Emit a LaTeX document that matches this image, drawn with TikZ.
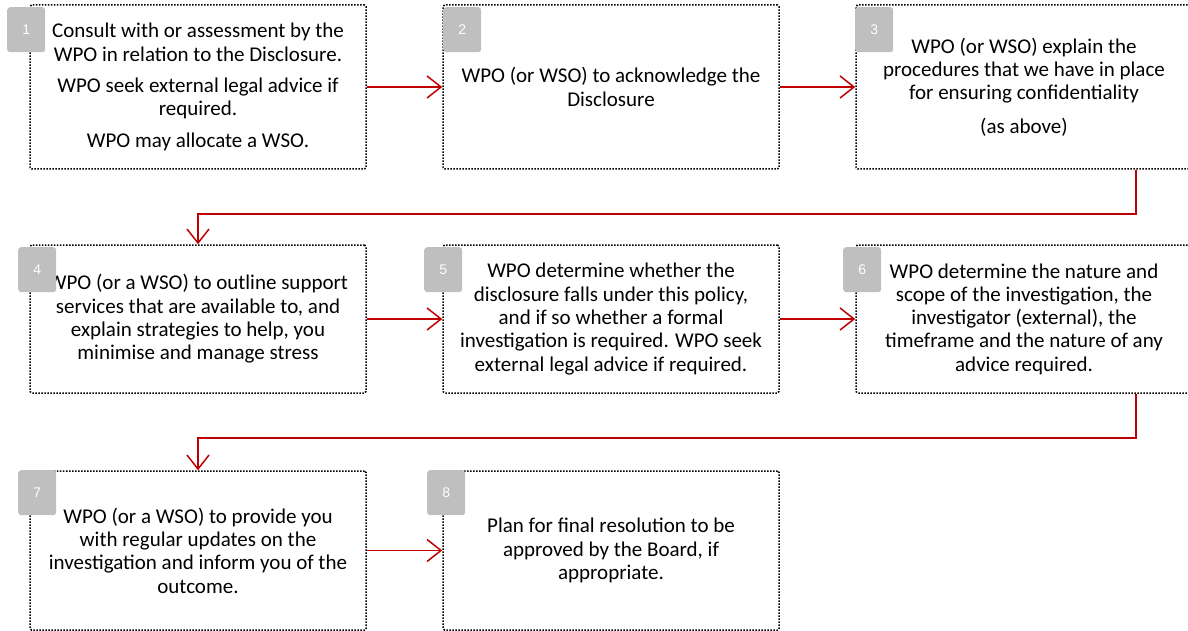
\documentclass[tikz,border=0pt]{standalone}
\usepackage{fontspec}
\setmainfont{Carlito}
\newfontfamily\badgefont{Liberation Sans}
\usetikzlibrary{arrows.meta}
\definecolor{linered}{HTML}{C00000}
\definecolor{badgegray}{HTML}{BFBFBF}
\tikzset{
  stepbox/.style={draw=black, line width=1.5pt, dash pattern=on 1.5pt off 1.5pt,
    rounded corners=1.5pt, minimum width=336pt, align=center, inner sep=0pt,
    font=\fontsize{21}{23.3}\selectfont, text=black},
  badge/.style={fill=badgegray, rounded corners=3pt, minimum width=38pt, minimum height=45pt,
    anchor=north west, inner sep=0pt, text=white, font=\badgefont\fontsize{14}{16}\selectfont},
  conn/.style={draw=linered, line width=1.5pt, -{Straight Barb[length=14pt,width=22pt]}},
}
\begin{document}
\begin{tikzpicture}[x=1pt,y=-1pt]
\useasboundingbox (0,0) rectangle (1188,631);
% row 1
\node[stepbox, minimum height=164pt] (n1) at (198,87)
  {Consult with or assessment by the\\WPO in relation to the Disclosure.\\[8pt]
   WPO seek external legal advice if\\required.\\[8pt]WPO may allocate a WSO.};
\node[stepbox, minimum height=164pt] (n2) at (611,87)
  {WPO (or WSO) to acknowledge the\\Disclosure};
\node[stepbox, minimum height=164pt] (n3) at (1024,87)
  {WPO (or WSO) explain the\\procedures that we have in place\\for ensuring confidentiality\\[10pt](as above)};
% row 2
\node[stepbox, minimum height=148pt] (n4) at (198,319)
  {WPO (or a WSO) to outline support\\services that are available to, and\\explain strategies to help, you\\minimise and manage stress};
\node[stepbox, minimum height=148pt] (n5) at (611,319)
  {WPO determine whether the\\disclosure falls under this policy,\\and if so whether a formal\\investigation is required. WPO seek\\external legal advice if required.};
\node[stepbox, minimum height=148pt] (n6) at (1024,319)
  {WPO determine the nature and\\scope of the investigation, the\\investigator (external), the\\timeframe and the nature of any\\advice required.};
% row 3
\node[stepbox, minimum height=159pt] (n7) at (198,550.5)
  {WPO (or a WSO) to provide you\\with regular updates on the\\investigation and inform you of the\\outcome.};
\node[stepbox, minimum height=159pt] (n8) at (611,550.5)
  {Plan for final resolution to be\\approved by the Board, if\\appropriate.};
% badges
\node[badge] (b1) at (7,7) {1};
\node[badge] (b2) at (443,7) {2};
\node[badge] (b3) at (855,7) {3};
\node[badge] (b4) at (18,247) {4};
\node[badge] (b5) at (424,247) {5};
\node[badge] (b6) at (843,247) {6};
\node[badge] (b7) at (18,470) {7};
\node[badge] (b8) at (427,470) {8};
% connectors
\draw[conn] (n1.east) -- (n2.west);
\draw[conn] (n2.east) -- (n3.west);
\draw[conn] ([xshift=112pt]n3.south) -- ++(0,44) -| (n4.north);
\draw[conn] (n4.east) -- (n5.west);
\draw[conn] (n5.east) -- (n6.west);
\draw[conn] ([xshift=112pt]n6.south) -- ++(0,44) -| (n7.north);
\draw[conn] (n7.east) -- (n8.west);
\end{tikzpicture}
\end{document}
